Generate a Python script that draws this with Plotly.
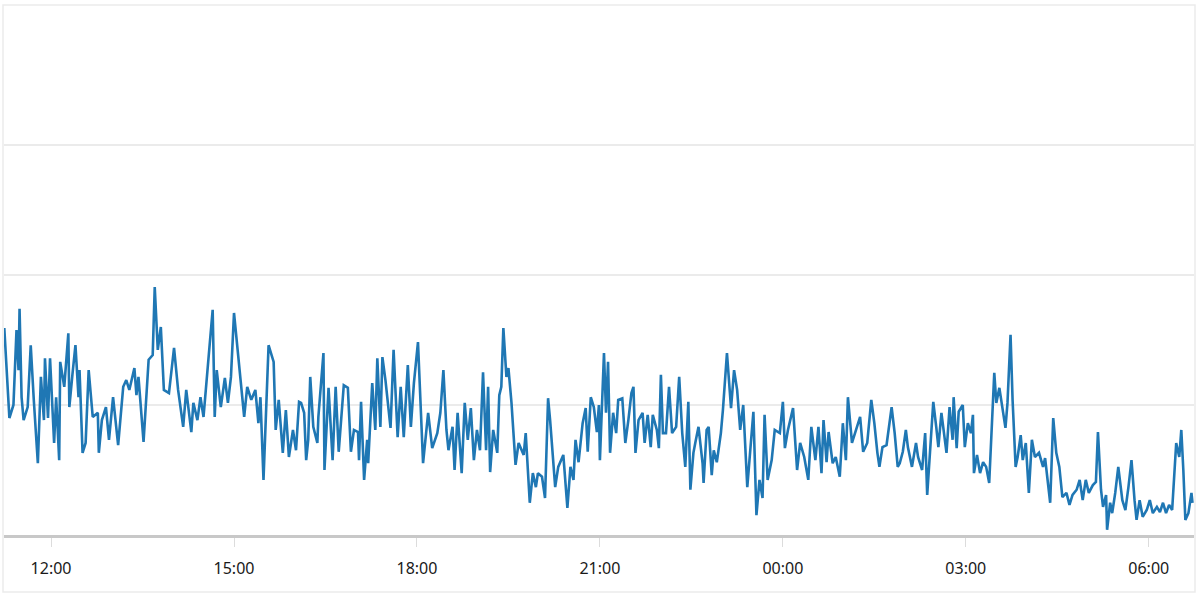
import datetime as dt
import plotly.graph_objects as go

# Minutes relative to 12:00 on the first day, and the metric value at each time
minutes_from_noon = [
    -46, -41, -37, -34, -32, -31, -29, -27, -23, -20, -17, -13, -10, -7, -6, -3, -1, 3, 5, 8,
    9, 13, 17, 18, 21, 24, 27, 28, 31, 34, 37, 41, 46, 47, 50, 54, 57, 61, 66, 71,
    74, 77, 82, 84, 86, 91, 96, 100, 102, 105, 108, 111, 116, 121, 125, 130, 133, 138, 140, 144,
    147, 150, 156, 159, 161, 163, 167, 171, 174, 177, 180, 184, 187, 190, 193, 197, 201, 204, 206, 209,
    214, 219, 221, 224, 228, 231, 234, 238, 241, 244,
    246, 249, 251, 253, 255, 258, 262, 263, 268, 269, 273, 277, 280, 283, 288, 292, 295, 298, 302, 303,
    305, 308, 311, 312, 316, 319, 321, 324, 326, 329, 334, 337, 341, 344, 347, 351, 354, 357, 361, 364,
    366, 371, 375, 380, 383, 386, 389, 391, 395, 397, 400, 404, 407, 410, 413, 416, 419, 422, 425, 428,
    430, 432, 435, 439, 441, 443, 445, 448, 450, 453, 457, 460, 465, 467, 471, 474, 477, 479, 483, 486,
    489, 491, 496, 499, 504, 508, 511, 514, 516, 519, 523, 526, 528, 531, 534, 537, 539,
    540, 544, 546, 548, 550, 553, 556, 558, 562, 565, 568, 571, 573, 575, 578, 582, 584, 587, 590, 592,
    596, 598, 600, 602, 605, 608, 611, 615, 618, 621, 624, 627, 629, 632, 634, 637, 641, 642, 645, 647,
    650, 652, 655, 659, 661, 665, 669, 672, 675, 678, 681, 685, 691, 694, 697, 700, 702, 705, 709, 712,
    717, 720, 722, 725, 730, 734, 737, 741, 745, 748, 752, 755, 758, 760, 763, 765, 769, 772, 776, 779,
    782, 784, 788, 791, 796, 799, 803, 807, 810, 813, 815, 818, 822, 827, 830, 833,
    835, 838, 841, 843, 847, 851, 853, 857, 860, 862, 866, 868, 871, 873, 876, 879, 881, 884, 887, 888,
    891, 893, 897, 899, 902, 905, 907, 908, 911, 914, 917, 920, 923, 928, 930, 933, 936, 939, 941, 944,
    946, 949, 951, 954, 956, 959, 962, 965, 968, 972, 976, 978, 983, 986, 989, 992, 995, 999, 1002, 1005,
    1009, 1012, 1015, 1018, 1021, 1025, 1028, 1030, 1033, 1035, 1038, 1039, 1042, 1044, 1047, 1050, 1054, 1057, 1060, 1063,
    1066, 1068, 1071, 1074, 1078, 1081, 1084, 1088, 1091, 1094, 1097, 1100, 1103, 1107, 1110, 1112, 1114, 1116, 1119, 1122,
    1123,
]

values = [
    39.8, 22.5, 25.0, 39.4, 31.7, 43.5, 26.5, 22.1, 24.6, 36.5, 26.0, 13.8, 30.4, 22.1, 34.0, 22.5, 34.0, 17.7, 26.5, 14.4,
    33.3, 28.5, 38.8, 24.6, 30.8, 36.5, 26.5, 31.7, 15.8, 17.7, 31.7, 22.7, 23.5, 15.8, 22.1, 24.6, 18.3, 26.5, 17.3, 28.5,
    29.8, 27.9, 32.1, 26.9, 30.4, 17.9, 33.7, 34.6, 47.7, 35.6, 40.0, 27.9, 27.3, 36.0, 27.9, 20.8, 27.9, 19.8, 25.4, 22.1,
    26.5, 22.7, 36.5, 43.3, 22.7, 31.7, 24.6, 30.2, 25.4, 30.4, 42.7, 35.0, 28.5, 22.7, 28.5, 26.0, 27.9, 21.5, 26.5, 10.6,
    36.5, 33.3, 20.2, 26.0, 15.8, 24.0, 15.0, 20.2, 16.3, 25.6,
    25.4, 23.5, 14.4, 18.3, 30.4, 20.8, 17.7, 22.7, 35.0, 12.5, 28.3, 14.4, 28.5, 16.0, 28.8, 28.3, 16.0, 20.2, 19.8, 14.4,
    25.6, 10.6, 18.3, 13.8, 29.2, 20.2, 34.0, 20.8, 34.2, 29.8, 20.6, 35.6, 18.8, 28.5, 18.8, 32.7, 20.8, 29.2, 37.1, 22.7,
    13.8, 23.5, 16.7, 19.6, 23.5, 31.7, 20.2, 16.3, 20.8, 12.5, 23.5, 11.9, 25.4, 18.3, 24.4, 14.4, 20.2, 16.3, 31.3, 16.3,
    28.5, 12.1, 20.2, 15.8, 26.9, 28.5, 39.8, 30.4, 32.1, 25.4, 13.5, 17.7, 15.4, 19.6, 6.2, 11.9, 9.2, 11.9, 11.2, 7.1,
    26.3, 22.1, 9.2, 13.1, 15.4, 5.2, 13.1, 10.6, 18.3, 14.0, 21.5, 24.4, 16.0, 26.5, 24.6, 19.8, 25.0,
    14.4, 35.0, 23.5, 33.3, 15.8, 23.5, 19.6, 26.0, 26.3, 17.7, 22.1, 27.3, 28.5, 15.8, 22.1, 23.5, 17.7, 23.1, 16.9, 23.1,
    20.2, 16.7, 30.8, 19.6, 19.6, 28.5, 19.6, 20.8, 30.4, 19.6, 13.1, 25.6, 8.7, 15.8, 17.9, 20.8, 13.8, 10.0, 20.2, 20.8,
    11.5, 16.3, 14.0, 19.6, 24.0, 35.0, 24.4, 31.7, 27.9, 20.2, 25.0, 9.2, 23.7, 3.8, 10.6, 7.1, 23.1, 10.6, 14.4, 20.2,
    19.6, 25.6, 16.7, 20.2, 24.4, 12.5, 17.7, 15.0, 10.6, 20.8, 14.4, 20.8, 11.9, 22.1, 14.0, 19.8, 13.8, 15.0, 11.2, 21.5,
    14.4, 26.5, 17.7, 19.6, 22.7, 16.0, 17.7, 26.0, 21.5, 15.8, 13.1, 16.9, 17.3, 24.6, 19.6, 13.1,
    13.8, 16.0, 20.2, 16.9, 13.1, 17.7, 15.0, 12.5, 19.6, 7.7, 19.6, 25.6, 20.6, 16.9, 23.5, 18.3, 15.8, 24.6, 18.3, 26.5,
    16.7, 23.7, 25.0, 16.9, 21.5, 19.6, 23.1, 11.9, 15.4, 11.9, 14.0, 13.1, 10.0, 31.2, 25.4, 28.3, 24.6, 20.6, 25.4, 38.5,
    26.0, 13.1, 15.0, 19.2, 14.4, 17.7, 8.1, 18.3, 15.0, 15.8, 13.1, 14.8, 6.2, 22.5, 15.8, 13.1, 7.3, 8.1, 5.8, 7.7,
    8.7, 10.6, 6.7, 10.6, 8.1, 9.6, 10.2, 19.8, 8.7, 5.4, 7.7, 1.0, 6.2, 4.2, 8.1, 13.1, 6.7, 4.8, 9.2, 14.4,
    6.7, 2.9, 6.7, 3.5, 4.8, 6.7, 4.2, 5.4, 4.4, 6.2, 4.2, 5.8, 4.8, 17.7, 15.0, 20.2, 12.5, 2.9, 4.2, 8.1,
    6.2,
]

noon = dt.datetime(2024, 1, 1, 12, 0)
times = [noon + dt.timedelta(minutes=m) for m in minutes_from_noon]

x_start = noon + dt.timedelta(minutes=-46.3)
x_end = noon + dt.timedelta(minutes=1124.5)

fig = go.Figure()
fig.add_trace(go.Scatter(
    x=times, y=values, mode="lines",
    line=dict(color="#1f77b4", width=2.6),
    hoverinfo="skip", showlegend=False,
))

fig.update_layout(
    width=1200, height=597,
    margin=dict(l=4, r=6, t=15, b=62),
    paper_bgcolor="white", plot_bgcolor="white",
    font=dict(family="Noto Sans, Open Sans, sans-serif", size=16, color="#1a1a1a"),
    xaxis=dict(
        type="date", range=[x_start, x_end],
        tickformat="%H:%M", dtick=3 * 3600 * 1000, tick0="2024-01-01 00:00",
        showgrid=False, zeroline=False,
        showline=True, linecolor="#c8c8c8", linewidth=3,
        ticks="outside", ticklen=9, tickwidth=1, tickcolor="#dcdcdc",
        ticklabelstandoff=8,
        tickfont=dict(size=16, color="#1a1a1a"),
    ),
    yaxis=dict(
        range=[0, 100], dtick=25, showticklabels=False,
        showgrid=True, gridcolor="#ebebeb", gridwidth=1.5,
        zeroline=False, showline=False, ticks="",
    ),
    shapes=[dict(
        type="rect", xref="paper", yref="paper",
        x0=-1 / 1190, x1=1 + 1 / 1190, y0=-57 / 520, y1=1 + 10 / 520,
        line=dict(color="#ebebeb", width=1.5), fillcolor="rgba(0,0,0,0)", layer="below",
    )],
)

fig.write_html(
    "out.html",
    config={"displayModeBar": False},
    post_script="document.body.style.margin='0';",
)
